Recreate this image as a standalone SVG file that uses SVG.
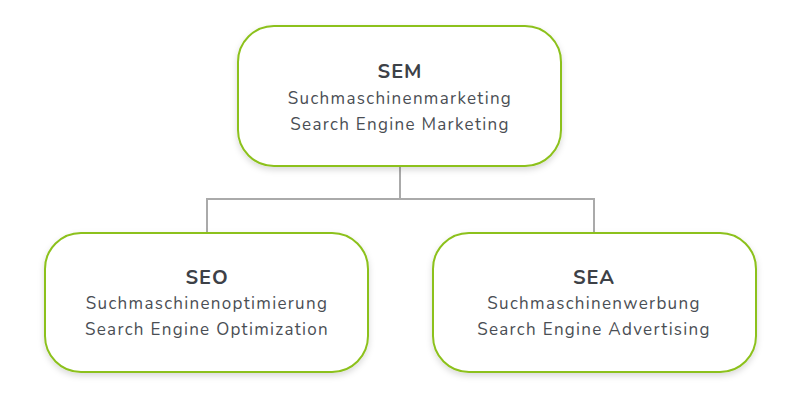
<svg xmlns="http://www.w3.org/2000/svg" width="800" height="400" viewBox="0 0 800 400">
<defs>
<filter id="sh" x="-10%" y="-10%" width="120%" height="130%"><feDropShadow dx="0" dy="3" stdDeviation="3" flood-color="#000" flood-opacity="0.15"/></filter>
<style>
.box{fill:#fff;stroke:#8cc11c;stroke-width:2;filter:url(#sh)}
.t{font-family:"Nunito","Lato","Open Sans",sans-serif;font-weight:bold;font-size:20px;fill:#3d4147;text-anchor:middle;letter-spacing:1px}
.s{font-family:"Nunito","Lato","Open Sans",sans-serif;font-size:17px;fill:#4a4e54;text-anchor:middle;letter-spacing:1.3px}
.c{fill:none;stroke:#aaaaaa;stroke-width:2}
</style>
</defs>
<rect width="800" height="400" fill="#fff"/>
<g id="connectors"><path class="c" d="M400 166V199M207 233V199H594V233"/></g>
<g id="sem"><rect class="box" x="238" y="26" width="323" height="140" rx="36"/>
<text class="t" x="400" y="78">SEM</text>
<text class="s" x="400" y="104">Suchmaschinenmarketing</text>
<text class="s" x="400" y="130">Search Engine Marketing</text></g>
<g id="seo"><rect class="box" x="45" y="233" width="323" height="139" rx="36"/>
<text class="t" x="207" y="284">SEO</text>
<text class="s" x="207" y="309">Suchmaschinenoptimierung</text>
<text class="s" x="207" y="335">Search Engine Optimization</text></g>
<g id="sea"><rect class="box" x="433" y="233" width="323" height="139" rx="36"/>
<text class="t" x="594" y="284">SEA</text>
<text class="s" x="594" y="309">Suchmaschinenwerbung</text>
<text class="s" x="594" y="335">Search Engine Advertising</text></g>
</svg>
